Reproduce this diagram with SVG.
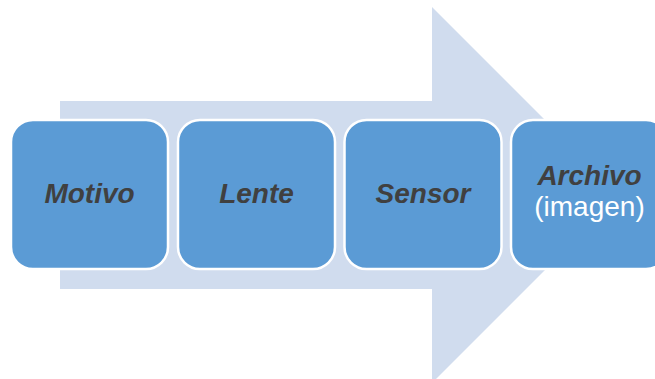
<svg xmlns="http://www.w3.org/2000/svg" width="655" height="379" viewBox="0 0 655 379">
<style>
.box{fill:#5b9bd5;stroke:#ffffff;stroke-width:2.5}
.lbl{font-family:"Liberation Sans",Arial,sans-serif;font-size:28px;font-weight:bold;font-style:italic;fill:#404040;text-anchor:middle}
.sub{font-family:"Liberation Sans",Arial,sans-serif;font-size:28px;fill:#ffffff;text-anchor:middle}
</style>
<rect width="655" height="379" fill="#ffffff"/>
<g id="connectors">
<polygon points="60,101 432,101 432,7 620,195 432,383 432,289 60,289" fill="#d0dcee"/>
</g>
<g id="motivo">
<rect class="box" x="11" y="120" width="157" height="149" rx="22"/>
<text class="lbl" x="89.5" y="203">Motivo</text>
</g>
<g id="lente">
<rect class="box" x="178" y="120" width="157" height="149" rx="22"/>
<text class="lbl" x="256.5" y="203">Lente</text>
</g>
<g id="sensor">
<rect class="box" x="344.5" y="120" width="157" height="149" rx="22"/>
<text class="lbl" x="423" y="203">Sensor</text>
</g>
<g id="archivo">
<rect class="box" x="511" y="120" width="157" height="149" rx="22"/>
<text class="lbl" x="589.5" y="185">Archivo</text>
<text class="sub" x="589.5" y="216">(imagen)</text>
</g>
</svg>
